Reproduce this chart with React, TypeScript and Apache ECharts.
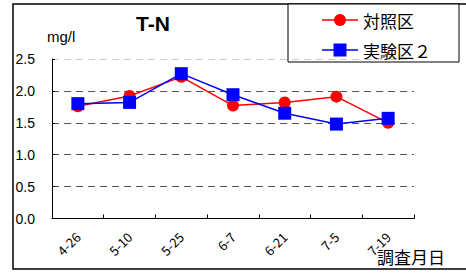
import React, { useEffect, useRef } from "react";
import * as echarts from "echarts";

const categories = ["4-26", "5-10", "5-25", "6-7", "6-21", "7-5", "7-19"];
const controlValues = [1.76, 1.92, 2.22, 1.77, 1.82, 1.91, 1.5];
const experimentValues = [1.8, 1.82, 2.27, 1.94, 1.65, 1.48, 1.57];
const yTicks = [0, 0.5, 1.0, 1.5, 2.0, 2.5];

const FONT = "'Noto Sans CJK JP', 'Liberation Sans', sans-serif";
const LATIN = "'Liberation Sans', 'Noto Sans CJK JP', sans-serif";

export default function App() {
  const ref = useRef<HTMLDivElement>(null);
  useEffect(() => {
    if (!ref.current) return;
    const chart = echarts.init(ref.current, null, { renderer: "svg" });
    chart.setOption({
      animation: false,
      backgroundColor: "#fff",
      textStyle: { fontFamily: FONT },
      grid: { left: 52, right: 52, top: 59, bottom: 56.5 },
      title: {
        text: "T-N",
        left: 148,
        top: 8,
        textAlign: "center",
        textStyle: { fontSize: 21, fontWeight: "bold", color: "#000", fontFamily: LATIN },
      },
      legend: { show: false },
      xAxis: {
        type: "category",
        data: categories,
        boundaryGap: true,
        axisLine: { lineStyle: { color: "#000", width: 1 } },
        axisTick: { show: true, inside: true, length: 4, lineStyle: { color: "#000" } },
        axisLabel: { rotate: 45, margin: 16, fontSize: 13, color: "#000", fontFamily: FONT },
        splitLine: { show: false },
      },
      yAxis: {
        type: "value",
        min: 0,
        max: 2.5,
        interval: 0.5,
        axisLine: { show: true, lineStyle: { color: "#000", width: 1 } },
        axisTick: { show: true, inside: true, length: 3, lineStyle: { color: "#000" } },
        axisLabel: {
          fontSize: 14,
          color: "#000",
          margin: 17,
          fontFamily: LATIN,
          formatter: (v: number) => (yTicks.includes(v) ? v.toFixed(1) : ""),
        },
        splitLine: {
          show: true,
          lineStyle: {
            type: [7, 5],
            color: ["#000", "#555", "#555", "#555", "#555", "#ccc"],
            width: 1,
          },
        },
      },
      series: [
        {
          name: "対照区",
          type: "line",
          data: controlValues,
          symbol: "circle",
          symbolSize: 12,
          itemStyle: { color: "#ff0000" },
          lineStyle: { color: "#ff0000", width: 1.5 },
        },
        {
          name: "実験区２",
          type: "line",
          data: experimentValues,
          symbol: "rect",
          symbolSize: 13,
          itemStyle: { color: "#0000ff" },
          lineStyle: { color: "#0000ff", width: 1.5 },
        },
      ],
      graphic: [
        {
          type: "rect",
          shape: { x: 13, y: 4, width: 470, height: 265 },
          style: { fill: "none", stroke: "#000", lineWidth: 1.5 },
          silent: true,
          z: -1,
        },
        {
          type: "text",
          left: 47,
          top: 29,
          style: { text: "mg/l", font: `15px ${LATIN}`, fill: "#000" },
        },
        {
          type: "text",
          left: 377,
          top: 248,
          style: { text: "調査月日", font: `17px ${FONT}`, fill: "#000" },
        },
        {
          type: "rect",
          shape: { x: 288, y: 4, width: 171, height: 58 },
          style: { fill: "#fff", stroke: "#000", lineWidth: 1 },
        },
        {
          type: "line",
          shape: { x1: 322, y1: 20, x2: 358, y2: 20 },
          style: { stroke: "#ff0000", lineWidth: 1.5 },
        },
        {
          type: "circle",
          shape: { cx: 340, cy: 20, r: 6 },
          style: { fill: "#ff0000" },
        },
        {
          type: "text",
          x: 363,
          y: 20,
          style: { text: "対照区", font: `17px ${FONT}`, fill: "#000", verticalAlign: "middle" },
        },
        {
          type: "line",
          shape: { x1: 322, y1: 50, x2: 358, y2: 50 },
          style: { stroke: "#0000ff", lineWidth: 1.5 },
        },
        {
          type: "rect",
          shape: { x: 333.5, y: 43.5, width: 13, height: 13 },
          style: { fill: "#0000ff" },
        },
        {
          type: "text",
          x: 363,
          y: 50,
          style: { text: "実験区２", font: `17px ${FONT}`, fill: "#000", verticalAlign: "middle" },
        },
      ],
    });
    return () => chart.dispose();
  }, []);
  return <div ref={ref} style={{ width: 466, height: 275, position: "absolute", left: 0, top: 0 }} />;
}
